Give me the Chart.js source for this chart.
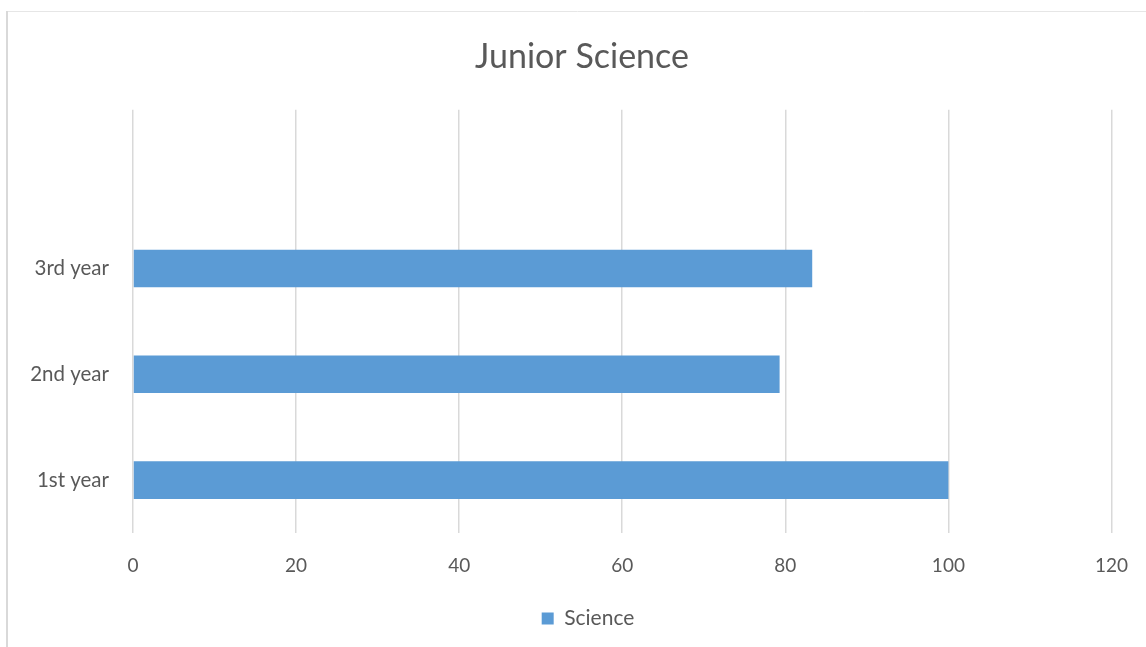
<!DOCTYPE html>
<html>
<head>
<meta charset="utf-8">
<script src="https://cdn.jsdelivr.net/npm/chart.js@4/dist/chart.umd.min.js"></script>
<style>
html,body{margin:0;padding:0;background:#fff;overflow:hidden;}
#wrap{width:1146px;height:647px;position:relative;overflow:hidden;}
</style>
</head>
<body>
<div id="wrap"><canvas id="c" width="1149" height="647"></canvas></div>
<script>
const categories = ['1st year', '2nd year', '3rd year', ''];
const scienceValues = [100, 79.3, 83.3, null];
const xTickMin = 0;
const xTickMax = 120;
const xTickStep = 20;
const seriesName = 'Science';
const chartTitle = 'Junior Science';

const FONT = 'Lato, "Liberation Sans", sans-serif';
const TXT = '#595959';

const frame = {
  id: 'frame',
  beforeDraw(chart) {
    const ctx = chart.ctx;
    ctx.save();
    ctx.fillStyle = '#ffffff';
    ctx.fillRect(0, 0, chart.width, chart.height);
    ctx.strokeStyle = '#e6e6e6';
    ctx.lineWidth = 1;
    ctx.beginPath();
    ctx.moveTo(6, 11.5);
    ctx.lineTo(chart.width, 11.5);
    ctx.stroke();
    ctx.strokeStyle = '#d9d9d9';
    ctx.lineWidth = 2;
    ctx.beginPath();
    ctx.moveTo(7, 11);
    ctx.lineTo(7, chart.height);
    ctx.stroke();
    ctx.restore();
  }
};

// shift title/legend horizontally so they centre like the original chart box
const shiftBlocks = {
  id: 'shiftBlocks',
  afterLayout(chart) {
    if (chart.titleBlock) { chart.titleBlock.left += 18; chart.titleBlock.right += 18; }
    if (chart.legend) { chart.legend.left += 24; chart.legend.right += 24; }
  }
};

new Chart(document.getElementById('c'), {
  type: 'bar',
  data: {
    labels: categories,
    datasets: [{
      label: seriesName,
      data: scienceValues,
      backgroundColor: '#5b9bd5',
      borderWidth: 0,
      categoryPercentage: 0.355,
      barPercentage: 1.0
    }]
  },
  options: {
    indexAxis: 'y',
    responsive: false,
    animation: false,
    layout: { padding: { left: 7, right: 28, top: 11, bottom: 8 } },
    plugins: {
      title: {
        display: true,
        text: chartTitle,
        color: TXT,
        font: { family: FONT, size: 34, weight: 'normal', lineHeight: 1.2 },
        padding: { top: 26, bottom: 32 }
      },
      legend: {
        display: true,
        position: 'bottom',
        labels: {
          color: TXT,
          font: { family: FONT, size: 21 },
          boxWidth: 12,
          boxHeight: 12,
          padding: 10
        }
      },
      tooltip: { enabled: false }
    },
    scales: {
      x: {
        min: xTickMin,
        max: xTickMax,
        ticks: {
          stepSize: xTickStep,
          color: TXT,
          font: { family: FONT, size: 19 },
          padding: 21,
          maxRotation: 0
        },
        grid: { color: '#d9d9d9', lineWidth: 1.5, drawTicks: false },
        border: { display: false },
        afterFit(scale) { scale.height = 65; }
      },
      y: {
        reverse: true,
        ticks: {
          color: TXT,
          font: { family: FONT, size: 20.5 },
          padding: 24
        },
        grid: { display: false, drawTicks: false },
        border: { display: false },
        afterFit(scale) { scale.width = 126; }
      }
    }
  },
  plugins: [frame, shiftBlocks]
});
</script>
</body>
</html>
